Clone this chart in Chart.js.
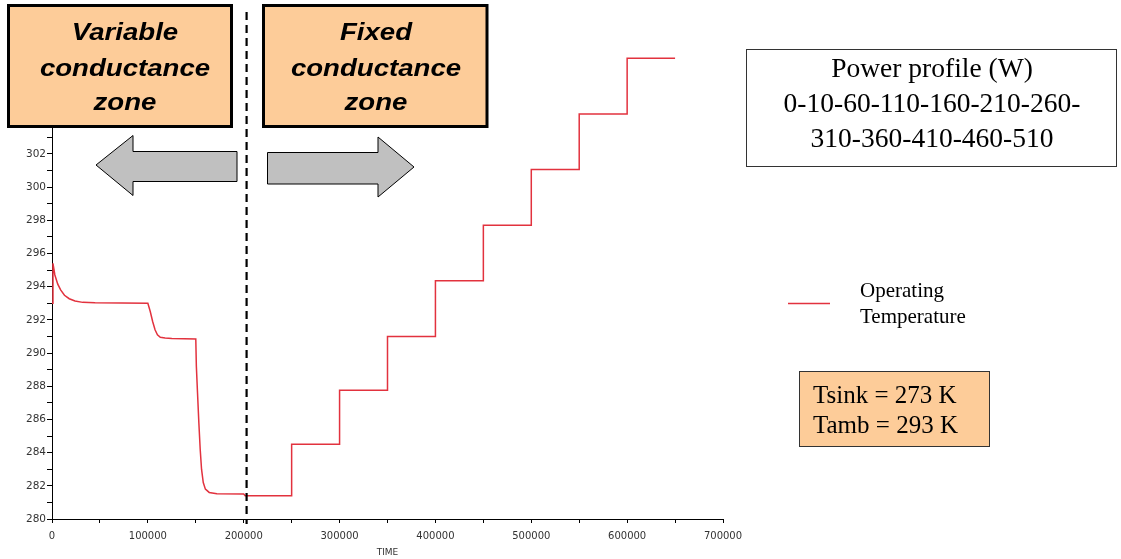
<!DOCTYPE html>
<html>
<head>
<meta charset="UTF-8" />
<title>Operating temperature</title>
<script src="https://cdn.jsdelivr.net/npm/chart.js"></script>
<style>
  body { margin: 0; background: #fff; }
  canvas { display: block; }
</style>
</head>
<body>
<canvas id="tempChart" width="1121" height="559"></canvas>
<script>
// transient part of the curve: time (s) / temperature (K)
const transientTime = [0, 1000, 3000, 6000, 9000, 13000, 18000, 24000, 32000, 45000,
  100000, 102500, 105000, 107500, 110000, 113000, 118000, 125000,
  150000, 150600, 151800, 153200, 154600, 156000, 157800, 160000, 164000, 172000,
  200000, 201500, 250000];
const transientTemp = [293.0, 295.4, 294.7, 294.15, 293.8, 293.48, 293.27, 293.13, 293.05, 293.02,
  293.0, 292.5, 291.9, 291.4, 291.1, 290.95, 290.9, 290.87,
  290.85, 289.2, 287.6, 285.8, 284.2, 283.0, 282.2, 281.8, 281.6, 281.52,
  281.5, 281.4, 281.4];

// power steps (fixed conductance zone)
const stepTime = [250000, 300000, 350000, 400000, 450000, 500000, 550000, 600000];
const stepTemp = [284.5, 287.75, 291.0, 294.35, 297.7, 301.05, 304.4, 307.75];
const endTime = 650000;

const zoneBoundary = 203000;
const xMin = 0, xMax = 700000, xStep = 50000, xLabelEvery = 100000;
const yMin = 280, yMax = 310, yStep = 1, yLabelEvery = 2;

const powerLines = ["Power profile (W)", "0-10-60-110-160-210-260-", "310-360-410-460-510"];
const sinkLines = ["Tsink = 273 K", "Tamb = 293 K"];
const legendLines = ["Operating", "Temperature"];

const lineColor = "#e2323e";
const peach = "#fdcc99";

// build the point list
const points = transientTime.map((t, i) => ({ x: t, y: transientTemp[i] }));
stepTime.forEach((t, i) => {
  points.push({ x: t, y: stepTemp[i] });
  const next = i + 1 < stepTime.length ? stepTime[i + 1] : endTime;
  points.push({ x: next, y: stepTemp[i] });
});

function zoneBox(ctx, x, y, w, h, lines, cx) {
  ctx.fillStyle = peach;
  ctx.fillRect(x, y, w, h);
  ctx.lineWidth = 3;
  ctx.strokeStyle = "#000";
  ctx.strokeRect(x, y, w, h);
  ctx.fillStyle = "#000";
  ctx.font = "italic bold 24px 'Liberation Sans', Arial, sans-serif";
  ctx.textAlign = "center";
  ctx.textBaseline = "alphabetic";
  const base = [40, 76, 110];
  lines.forEach((s, i) => {
    ctx.save();
    ctx.translate(cx, base[i]);
    ctx.scale(1.15, 1);
    ctx.fillText(s, 0, 0);
    ctx.restore();
  });
}

function arrow(ctx, pts) {
  ctx.beginPath();
  pts.forEach((p, i) => i ? ctx.lineTo(p[0], p[1]) : ctx.moveTo(p[0], p[1]));
  ctx.closePath();
  ctx.fillStyle = "#c0c0c0";
  ctx.fill();
  ctx.lineWidth = 1;
  ctx.strokeStyle = "#000";
  ctx.stroke();
}

const overlay = {
  id: "overlay",
  afterDraw(chart) {
    const ctx = chart.ctx;
    const xs = chart.scales.x;
    ctx.save();

    // zone boundary
    const bx = xs.getPixelForValue(zoneBoundary);
    ctx.beginPath();
    ctx.setLineDash([8, 5]);
    ctx.lineWidth = 2.2;
    ctx.strokeStyle = "#000";
    ctx.moveTo(bx, 12);
    ctx.lineTo(bx, 524);
    ctx.stroke();
    ctx.setLineDash([]);

    zoneBox(ctx, 8.5, 5.5, 223, 121, ["Variable", "conductance", "zone"], 125);
    zoneBox(ctx, 263.5, 5.5, 223.5, 121, ["Fixed", "conductance", "zone"], 376);

    arrow(ctx, [[96, 165], [133, 135.5], [133, 151.5], [237, 151.5], [237, 181.5], [133, 181.5], [133, 195.5]]);
    arrow(ctx, [[267.5, 152.5], [378, 152.5], [378, 137], [414, 167], [378, 197], [378, 184], [267.5, 184]]);

    // power profile box
    ctx.fillStyle = "#fff";
    ctx.fillRect(746.5, 49.5, 370, 117);
    ctx.lineWidth = 1;
    ctx.strokeStyle = "#333";
    ctx.strokeRect(746.5, 49.5, 370, 117);
    ctx.fillStyle = "#000";
    ctx.font = "27.5px 'Liberation Serif', 'Times New Roman', serif";
    ctx.textAlign = "center";
    powerLines.forEach((s, i) => ctx.fillText(s, 932, 77 + i * 35));

    // legend
    ctx.beginPath();
    ctx.lineWidth = 1.5;
    ctx.strokeStyle = lineColor;
    ctx.moveTo(788, 303.5);
    ctx.lineTo(830, 303.5);
    ctx.stroke();
    ctx.fillStyle = "#000";
    ctx.font = "21px 'Liberation Serif', 'Times New Roman', serif";
    ctx.textAlign = "left";
    legendLines.forEach((s, i) => ctx.fillText(s, 860, 297 + i * 26));

    // sink / ambient box
    ctx.fillStyle = peach;
    ctx.fillRect(799.5, 371.5, 190, 75);
    ctx.strokeStyle = "#333";
    ctx.lineWidth = 1;
    ctx.strokeRect(799.5, 371.5, 190, 75);
    ctx.fillStyle = "#000";
    ctx.font = "25px 'Liberation Serif', 'Times New Roman', serif";
    sinkLines.forEach((s, i) => ctx.fillText(s, 813, 403 + i * 30));

    ctx.restore();
  }
};

new Chart(document.getElementById("tempChart"), {
  type: "line",
  data: {
    datasets: [{
      label: "Operating Temperature",
      data: points,
      borderColor: lineColor,
      borderWidth: 1.5,
      pointRadius: 0,
      tension: 0,
      fill: false
    }]
  },
  options: {
    responsive: false,
    animation: false,
    devicePixelRatio: 1,
    layout: { padding: { left: 0, top: 21, right: 398, bottom: 0 } },
    plugins: {
      legend: { display: false },
      tooltip: { enabled: false }
    },
    scales: {
      x: {
        type: "linear",
        min: xMin,
        max: xMax,
        afterFit: s => { s.height = 40; },
        border: { color: "#000", width: 1 },
        grid: { drawOnChartArea: false, drawTicks: true, tickLength: 4, color: "#000" },
        ticks: {
          stepSize: xStep,
          autoSkip: false,
          maxRotation: 0,
          padding: 7,
          color: "#333",
          font: { family: "'DejaVu Sans', sans-serif", size: 10 },
          callback: v => (v % xLabelEvery === 0 ? String(v) : "")
        },
        title: {
          display: true,
          text: "TIME",
          color: "#333",
          font: { family: "'DejaVu Sans', sans-serif", size: 9 },
          padding: { top: 0, bottom: 1 }
        }
      },
      y: {
        min: yMin,
        max: yMax,
        afterFit: s => { s.width = 52; },
        border: { color: "#000", width: 1 },
        grid: { drawOnChartArea: false, drawTicks: true, tickLength: 5, color: "#000" },
        ticks: {
          stepSize: yStep,
          autoSkip: false,
          padding: 1,
          color: "#333",
          font: { family: "'DejaVu Sans', sans-serif", size: 10.5 },
          callback: v => (v % yLabelEvery === 0 ? String(v) : "")
        }
      }
    }
  },
  plugins: [overlay]
});
</script>
</body>
</html>
